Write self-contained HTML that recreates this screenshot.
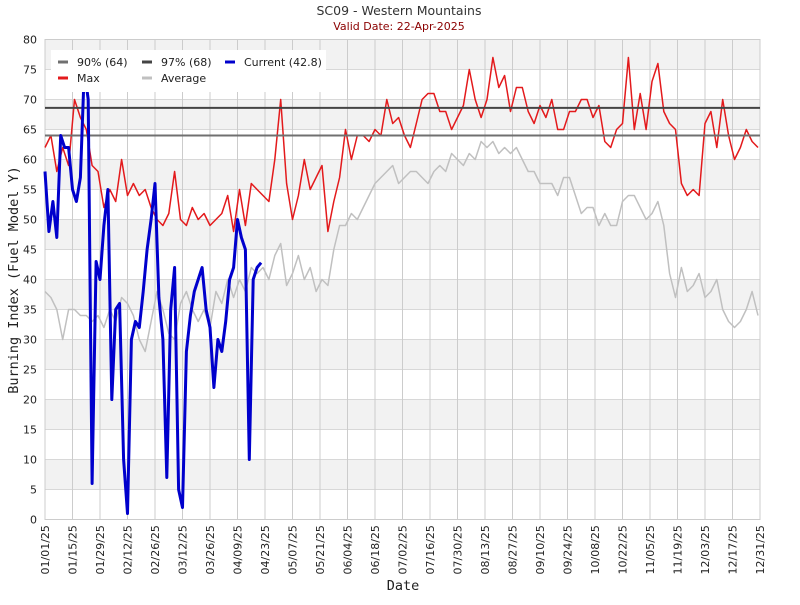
<!DOCTYPE html>
<html><head><meta charset="utf-8"><style>
body{margin:0;background:#fff;}
svg text{font-family:"DejaVu Sans","Liberation Sans",sans-serif;}
</style></head><body>
<svg id="chart" width="800" height="600" viewBox="0 0 800 600" xmlns="http://www.w3.org/2000/svg">
<text x="399" y="15" text-anchor="middle" font-size="12.5" fill="#333">SC09 - Western Mountains</text>
<text x="399" y="30" text-anchor="middle" font-size="11" fill="#8b0000">Valid Date: 22-Apr-2025</text>
<g id="plot"></g>
<text transform="translate(18,280) rotate(-90)" text-anchor="middle" font-size="13.5" fill="#222" style="font-family:'DejaVu Sans Mono',monospace">Burning Index (Fuel Model Y)</text>
<text x="403" y="590" text-anchor="middle" font-size="13.5" fill="#222" style="font-family:'DejaVu Sans Mono',monospace">Date</text>
</svg>
<script>
const xTickLabels=["01/01/25","01/15/25","01/29/25","02/12/25","02/26/25","03/12/25","03/26/25","04/09/25","04/23/25","05/07/25","05/21/25","06/04/25","06/18/25","07/02/25","07/16/25","07/30/25","08/13/25","08/27/25","09/10/25","09/24/25","10/08/25","10/22/25","11/05/25","11/19/25","12/03/25","12/17/25","12/31/25"];
const yTicks=[0,5,10,15,20,25,30,35,40,45,50,55,60,65,70,75,80];
const pct90=64;
const pct97=68.6;
const maxValues=[62,64,58,62,59,70,67,65,59,58,52,55,53,60,54,56,54,55,52,50,49,51,58,50,49,52,50,51,49,50,51,54,48,55,49,56,55,54,53,60,70,56,50,54,60,55,57,59,48,53,57,65,60,64,64,63,65,64,70,66,67,64,62,66,70,71,71,68,68,65,67,69,75,70,67,70,77,72,74,68,72,72,68,66,69,67,70,65,65,68,68,70,70,67,69,63,62,65,66,77,65,71,65,73,76,68,66,65,56,54,55,54,66,68,62,70,64,60,62,65,63,62];
const avgValues=[38,37,35,30,35,35,34,34,33,34,32,35,33,37,36,34,30,28,33,38,35,31,30,36,38,35,33,35,32,38,36,40,37,40,38,42,41,42,40,44,46,39,41,44,40,42,38,40,39,45,49,49,51,50,52,54,56,57,58,59,56,57,58,58,57,56,58,59,58,61,60,59,61,60,63,62,63,61,62,61,62,60,58,58,56,56,56,54,57,57,54,51,52,52,49,51,49,49,53,54,54,52,50,51,53,49,41,37,42,38,39,41,37,38,40,35,33,32,33,35,38,34];
const currentValues=[58,48,53,47,64,62,62,55,53,57,75,70,6,43,40,49,55,20,35,36,10,1,30,33,32,38,45,50,56,37,30,7,35,42,5,2,28,34,38,40,42,35,32,22,30,28,33,40,42,50,47,45,10,40,42,42.8];
const X0=45,X1=760,Y0=519.5,Y1=39.5;
const ns="http://www.w3.org/2000/svg";
const xs=d=>X0+d*(X1-X0)/364;
const ys=v=>Y0-(v/80)*(Y0-Y1);
const plot=document.getElementById('plot');
function mk(t,a){const e=document.createElementNS(ns,t);for(const k in a)e.setAttribute(k,a[k]);plot.appendChild(e);return e;}
for(let v=5;v<80;v+=10){const r=mk('rect',{x:X0,y:ys(v+5),width:X1-X0,height:ys(v)-ys(v+5),fill:'#f2f2f2'});

}
yTicks.forEach(v=>{const l=mk('line',{x1:X0,x2:X1,y1:ys(v),y2:ys(v),stroke:'#d8d8d8','stroke-width':1});


const t=mk('text',{x:X0-8,y:ys(v)+4,'text-anchor':'end','font-size':'11',fill:'#222'});t.textContent=v;

});
xTickLabels.forEach((s,i)=>{const d=Math.min(i*14,364);const x=xs(d);
const l=mk('line',{x1:x,x2:x,y1:Y1,y2:Y0,stroke:'#cccccc','stroke-width':1});


const t=mk('text',{transform:`translate(${x+4},${Y0+55}) rotate(-90)`,'font-size':'11',fill:'#222'});t.textContent=s;

});
const frame=mk('rect',{x:X0,y:Y1,width:X1-X0,height:Y0-Y1,fill:'none',stroke:'#cccccc'});


function series(arr,step,color,w,name){const pts=arr.map((v,i)=>xs(Math.min(i*step,364)).toFixed(1)+','+ys(v).toFixed(1)).join(' ');
const p=mk('polyline',{points:pts,fill:'none',stroke:color,'stroke-width':w,'stroke-linejoin':'round'});

}
series(avgValues,3,'#c0c0c0',1.5,'average-line');
series(maxValues,3,'#e31a1c',1.5,'max-line');
const l90=mk('line',{x1:X0,x2:X1,y1:ys(pct90),y2:ys(pct90),stroke:'#707070','stroke-width':2});


const l97=mk('line',{x1:X0,x2:X1,y1:ys(pct97),y2:ys(pct97),stroke:'#444','stroke-width':2});


series(currentValues,2,'#0000cc',3,'current-line');
const lg=mk('rect',{x:51,y:50,width:275,height:42,fill:'#fff'});


[[58,62,'#707070','90% (64)'],[142,62,'#444','97% (68)'],[225,62,'#0000cc','Current (42.8)'],[58,78,'#e31a1c','Max'],[142,78,'#c0c0c0','Average']].forEach(e=>{
const ln=mk('line',{x1:e[0],x2:e[0]+10,y1:e[1],y2:e[1],stroke:e[2],'stroke-width':3});


const t=mk('text',{x:e[0]+19,y:e[1]+4,'font-size':'11',fill:'#222'});t.textContent=e[3];

});
</script>
</body></html>
